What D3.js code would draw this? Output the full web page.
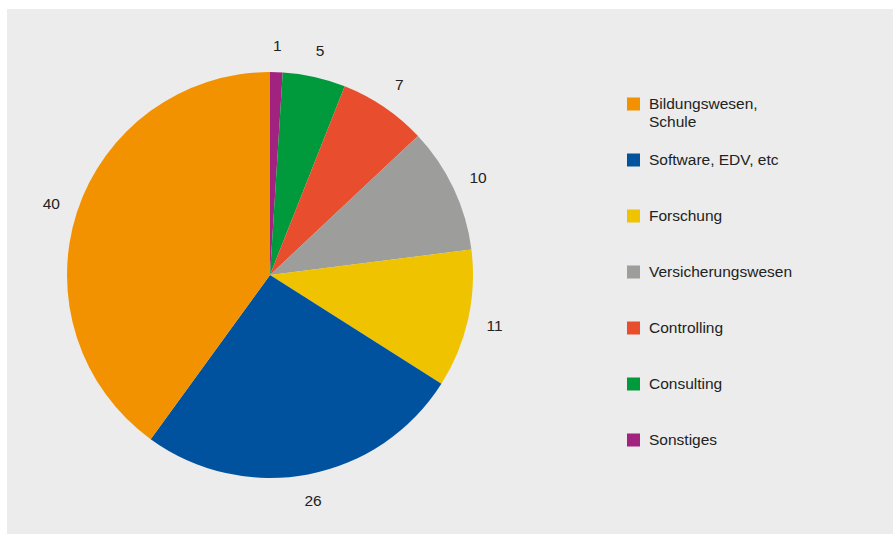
<!DOCTYPE html>
<html>
<head>
<meta charset="utf-8">
<script src="https://cdn.jsdelivr.net/npm/d3@7"></script>
<style>
  html, body { margin: 0; padding: 0; background: #ffffff; }
  svg { display: block; }
  text { font-family: "Liberation Sans", Arial, Helvetica, sans-serif; }
</style>
</head>
<body>
<svg id="chart" width="893" height="534"></svg>
<script>
// Slices in drawing order, clockwise from 12 o'clock
const categories = ["Sonstiges", "Consulting", "Controlling", "Versicherungswesen", "Forschung", "Software, EDV, etc", "Bildungswesen, Schule"];
const values = [1, 5, 7, 10, 11, 26, 40];
const colors = ["#a2237f", "#009a3d", "#e84e2d", "#9d9d9c", "#f0c300", "#00529f", "#f39200"];
// Legend order, top to bottom
const legendOrder = ["Bildungswesen, Schule", "Software, EDV, etc", "Forschung", "Versicherungswesen", "Controlling", "Consulting", "Sonstiges"];
// Legend labels split into lines
const legendLines = {
  "Bildungswesen, Schule": ["Bildungswesen,", "Schule"]
};

const W = 893, H = 534;
const svg = d3.select("#chart");

// panel background
svg.append("rect")
  .attr("x", 7).attr("y", 9)
  .attr("width", W - 7).attr("height", H - 9)
  .attr("fill", "#ebeceb");

const cx = 270, cy = 275, R = 203, labelR = 230;

const color = d3.scaleOrdinal().domain(categories).range(colors);

const data = categories.map((c, i) => ({ name: c, value: values[i] }));
const pie = d3.pie().sort(null).value(d => d.value);
const arcs = pie(data);

const arc = d3.arc().innerRadius(0).outerRadius(R);
const labelArc = d3.arc().innerRadius(labelR).outerRadius(labelR);

const g = svg.append("g").attr("transform", `translate(${cx},${cy})`);

g.selectAll("path.slice")
  .data(arcs)
  .join("path")
  .attr("class", "slice")
  .attr("d", arc)
  .attr("fill", d => color(d.data.name));

g.selectAll("text.value")
  .data(arcs)
  .join("text")
  .attr("class", "value")
  .attr("transform", d => `translate(${labelArc.centroid(d)})`)
  .attr("text-anchor", "middle")
  .attr("dy", "0.35em")
  .attr("font-size", 15.5)
  .attr("fill", "#222")
  .text(d => d.data.value);

// legend
const legendY = d3.scalePoint().domain(legendOrder).range([104, 440]);
const legend = svg.append("g");
const item = legend.selectAll("g.item")
  .data(legendOrder)
  .join("g")
  .attr("class", "item")
  .attr("transform", d => `translate(627,${legendY(d)})`);

item.append("rect")
  .attr("x", 0).attr("y", -6.5)
  .attr("width", 13).attr("height", 13)
  .attr("fill", d => color(d));

item.append("text")
  .attr("x", 22)
  .attr("y", 0)
  .attr("font-size", 15.5)
  .attr("fill", "#222")
  .selectAll("tspan")
  .data(d => legendLines[d] || [d])
  .join("tspan")
  .attr("x", 22)
  .attr("dy", (d, i) => i === 0 ? "0.35em" : "1.12em")
  .text(d => d);
</script>
</body>
</html>
